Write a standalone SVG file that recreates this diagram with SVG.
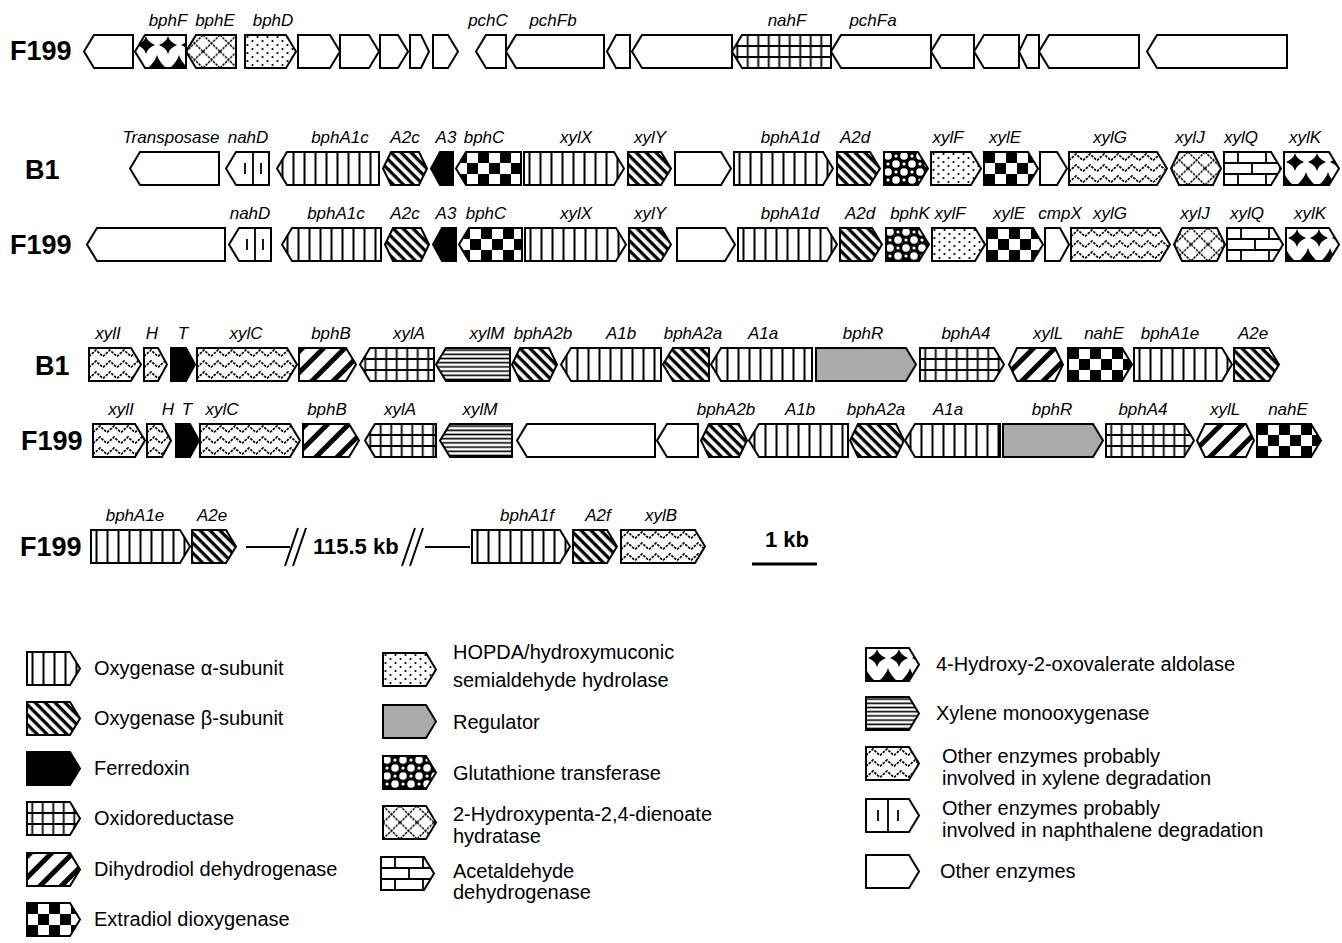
<svg xmlns="http://www.w3.org/2000/svg" width="1342" height="943" viewBox="0 0 1342 943">
<style>
.g{stroke:#000;stroke-width:2;stroke-linejoin:miter}
.w{fill:#fff}.k{fill:#000}.gr{fill:#aaa}
.vl{fill:url(#pVL)}.b{fill:url(#pB)}.dh{fill:url(#pDH)}.grid{fill:url(#pGrid)}.chk{fill:url(#pChk)}
.dot{fill:url(#pDot)}.zig{fill:url(#pZig)}.hyd{fill:url(#pHyd)}.brk{fill:url(#pBrk)}.ald{fill:url(#pAld)}
.glu{fill:url(#pGlu)}.hl{fill:url(#pHL)}
.nl{stroke:#000;stroke-width:1.8;fill:none}
.gl{font-family:"Liberation Sans",Arial,sans-serif;font-style:italic;font-size:17px;text-anchor:middle}
.rl{font-family:"Liberation Sans",Arial,sans-serif;font-weight:bold;font-size:27px}
.lg{font-family:"Liberation Sans",Arial,sans-serif;font-size:20px}
.kb{font-family:"Liberation Sans",Arial,sans-serif;font-weight:bold;font-size:22px}
.cn{stroke:#000;stroke-width:2;fill:none}
</style>
<defs>
<pattern id="pVL" patternUnits="userSpaceOnUse" width="11" height="33"><rect width="11" height="33" fill="#fff"/><rect x="4.5" width="2" height="33" fill="#000"/></pattern>
<pattern id="pB" patternUnits="userSpaceOnUse" width="7" height="7" patternTransform="rotate(45)"><rect width="7" height="7" fill="#fff"/><rect width="7" height="3.3" fill="#000"/></pattern>
<pattern id="pDH" patternUnits="userSpaceOnUse" width="15" height="15" patternTransform="rotate(-45)"><rect width="15" height="15" fill="#fff"/><rect width="15" height="5" fill="#000"/></pattern>
<pattern id="pGrid" patternUnits="userSpaceOnUse" width="10.5" height="33"><rect width="10.5" height="33" fill="#fff"/><path d="M5.25,0V33M0,11H10.5M0,22H10.5" stroke="#000" stroke-width="1.8"/></pattern>
<pattern id="pChk" patternUnits="userSpaceOnUse" width="22" height="22"><rect width="22" height="22" fill="#fff"/><rect width="11" height="11" fill="#000"/><rect x="11" y="11" width="11" height="11" fill="#000"/></pattern>
<pattern id="pDot" patternUnits="userSpaceOnUse" width="10" height="8"><rect width="10" height="8" fill="#fff"/><circle cx="2.5" cy="2" r="1.1"/><circle cx="7.5" cy="6" r="1.1"/></pattern>
<pattern id="pZig" patternUnits="userSpaceOnUse" width="14" height="11"><rect width="14" height="11" fill="#fff"/><polyline points="0,8.5 7,2 14,8.5" fill="none" stroke="#000" stroke-width="1.7" stroke-dasharray="2.6 1.2"/></pattern>
<pattern id="pHyd" patternUnits="userSpaceOnUse" width="17" height="16.5"><rect width="17" height="16.5" fill="#fff"/><path d="M0,0L17,16.5M17,0L0,16.5" stroke="#000" stroke-width="1.5" stroke-dasharray="2.5 1"/></pattern>
<pattern id="pBrk" patternUnits="userSpaceOnUse" width="28" height="33"><rect width="28" height="33" fill="#fff"/><path d="M0,11H28M0,22H28M14,0V11M0,11V22M28,11V22M14,22V33" stroke="#000" stroke-width="1.8"/></pattern>
<pattern id="pAld" patternUnits="userSpaceOnUse" width="22" height="33"><rect width="22" height="33" fill="#fff"/><path d="M11,1Q12.5,7 20,10Q12.5,13 11,19Q9.5,13 2,10Q9.5,7 11,1Z"/><path d="M0,20Q1.5,26 9,33H-9Q-1.5,26 0,20ZM22,20Q23.5,26 31,33H13Q20.5,26 22,20Z"/></pattern>
<pattern id="pGlu" patternUnits="userSpaceOnUse" width="16" height="16"><rect width="16" height="16" fill="#000"/><circle cx="4" cy="4" r="3.8" fill="#fff"/><circle cx="12" cy="12" r="3.8" fill="#fff"/><circle cx="12" cy="4" r="1.6" fill="#fff"/><circle cx="4" cy="12" r="1.6" fill="#fff"/></pattern>
<pattern id="pHL" patternUnits="userSpaceOnUse" width="10" height="4.2"><rect width="10" height="4.2" fill="#fff"/><rect y="1.3" width="10" height="1.6" fill="#000"/></pattern>
</defs>

<g id="row-labels">
<text class="rl" x="10" y="60">F199</text>
<text class="rl" x="25" y="179">B1</text>
<text class="rl" x="10" y="254">F199</text>
<text class="rl" x="35" y="375">B1</text>
<text class="rl" x="21" y="450">F199</text>
<text class="rl" x="20" y="556">F199</text>
</g>

<!-- Row 1 -->
<g id="r1g1" transform="translate(84,35)"><path class="g w" d="M10,0H49V33H10L0,16.5Z"/></g>
<g id="r1g2" transform="translate(135,35)"><path class="g ald" d="M10,0H51V33H10L0,16.5Z"/><text class="gl" x="33" y="-9">bphF</text></g>
<g id="r1g3" transform="translate(186,35)"><path class="g hyd" d="M10,0H50V33H10L0,16.5Z"/><text class="gl" x="29" y="-9">bphE</text></g>
<g id="r1g4" transform="translate(245,35)"><path class="g dot" d="M0,0H41L51,16.5L41,33H0Z"/><text class="gl" x="28" y="-9">bphD</text></g>
<g id="r1g5" transform="translate(298,35)"><path class="g w" d="M0,0H32L42,16.5L32,33H0Z"/></g>
<g id="r1g6" transform="translate(340,35)"><path class="g w" d="M0,0H29L39,16.5L29,33H0Z"/></g>
<g id="r1g7" transform="translate(380,35)"><path class="g w" d="M0,0H18L28,16.5L18,33H0Z"/></g>
<g id="r1g8" transform="translate(410,35)"><path class="g w" d="M0,0H11L19,16.5L11,33H0Z"/></g>
<g id="r1g9" transform="translate(433,35)"><path class="g w" d="M0,0H15L25,16.5L15,33H0Z"/></g>
<g id="r1g10" transform="translate(476,35)"><path class="g w" d="M10,0H30V33H10L0,16.5Z"/><text class="gl" x="12" y="-9">pchC</text></g>
<g id="r1g11" transform="translate(506,35)"><path class="g w" d="M10,0H98V33H10L0,16.5Z"/><text class="gl" x="47" y="-9">pchFb</text></g>
<g id="r1g12" transform="translate(607,35)"><path class="g w" d="M9,0H23V33H9L0,16.5Z"/></g>
<g id="r1g13" transform="translate(632,35)"><path class="g w" d="M10,0H100V33H10L0,16.5Z"/></g>
<g id="r1g14" transform="translate(732,35)"><path class="g grid" d="M10,0H99V33H10L0,16.5Z"/><text class="gl" x="55" y="-9">nahF</text></g>
<g id="r1g15" transform="translate(831,35)"><path class="g w" d="M10,0H100V33H10L0,16.5Z"/><text class="gl" x="42" y="-9">pchFa</text></g>
<g id="r1g16" transform="translate(931,35)"><path class="g w" d="M10,0H43V33H10L0,16.5Z"/></g>
<g id="r1g17" transform="translate(974,35)"><path class="g w" d="M10,0H45V33H10L0,16.5Z"/></g>
<g id="r1g18" transform="translate(1019,35)"><path class="g w" d="M8,0H20V33H8L0,16.5Z"/></g>
<g id="r1g19" transform="translate(1039,35)"><path class="g w" d="M10,0H100V33H10L0,16.5Z"/></g>
<g id="r1g20" transform="translate(1147,35)"><path class="g w" d="M10,0H140V33H10L0,16.5Z"/></g>

<!-- Row 2 B1 -->
<g id="r2g1" transform="translate(130,152)"><path class="g w" d="M10,0H89V33H10L0,16.5Z"/><text class="gl" x="41" y="-9">Transposase</text></g>
<g id="r2g2" transform="translate(226,152)"><path class="g w" d="M10,0H43V33H10L0,16.5Z"/><path class="nl" d="M27,0V33M19,11V22M35,11V22"/><text class="gl" x="22" y="-9">nahD</text></g>
<g id="r2g3" transform="translate(277,152)"><path class="g vl" d="M10,0H102V33H10L0,16.5Z"/><text class="gl" x="63" y="-9">bphA1c</text></g>
<g id="r2g4" transform="translate(383,152)"><path class="g b" d="M8,0H36L44,16.5L36,33H8L0,16.5Z"/><text class="gl" x="22" y="-9">A2c</text></g>
<g id="r2g5" transform="translate(431,152)"><path class="g k" d="M9,0H22V33H9L0,16.5Z"/><text class="gl" x="15" y="-9">A3</text></g>
<g id="r2g6" transform="translate(456,152)"><path class="g chk" d="M10,0H65V33H10L0,16.5Z"/><text class="gl" x="28" y="-9">bphC</text></g>
<g id="r2g7" transform="translate(524,152)"><path class="g vl" d="M0,0H90L100,16.5L90,33H0Z"/><text class="gl" x="52" y="-9">xylX</text></g>
<g id="r2g8" transform="translate(628,152)"><path class="g b" d="M0,0H33L43,16.5L33,33H0Z"/><text class="gl" x="22" y="-9">xylY</text></g>
<g id="r2g9" transform="translate(675,152)"><path class="g w" d="M0,0H46L56,16.5L46,33H0Z"/></g>
<g id="r2g10" transform="translate(734,152)"><path class="g vl" d="M0,0H89L99,16.5L89,33H0Z"/><text class="gl" x="56" y="-9">bphA1d</text></g>
<g id="r2g11" transform="translate(837,152)"><path class="g b" d="M0,0H33L43,16.5L33,33H0Z"/><text class="gl" x="18" y="-9">A2d</text></g>
<g id="r2g12" transform="translate(884,152)"><path class="g glu" d="M0,0H34L44,16.5L34,33H0Z"/></g>
<g id="r2g13" transform="translate(931,152)"><path class="g dot" d="M0,0H40L50,16.5L40,33H0Z"/><text class="gl" x="17" y="-9">xylF</text></g>
<g id="r2g14" transform="translate(984,152)"><path class="g chk" d="M0,0H44L54,16.5L44,33H0Z"/><text class="gl" x="21" y="-9">xylE</text></g>
<g id="r2g15" transform="translate(1040,152)"><path class="g w" d="M0,0H17L27,16.5L17,33H0Z"/></g>
<g id="r2g16" transform="translate(1069,152)"><path class="g zig" d="M0,0H88L98,16.5L88,33H0Z"/><text class="gl" x="41" y="-9">xylG</text></g>
<g id="r2g17" transform="translate(1171,152)"><path class="g hyd" d="M8,0H42L50,16.5L42,33H8L0,16.5Z"/><text class="gl" x="19" y="-9">xylJ</text></g>
<g id="r2g18" transform="translate(1224,152)"><path class="g brk" d="M0,0H47L57,16.5L47,33H0Z"/><text class="gl" x="17" y="-9">xylQ</text></g>
<g id="r2g19" transform="translate(1284,152)"><path class="g ald" d="M0,0H45L55,16.5L45,33H0Z"/><text class="gl" x="21" y="-9">xylK</text></g>

<!-- Row 3 F199 -->
<g id="r3g1" transform="translate(87,228)"><path class="g w" d="M10,0H138V33H10L0,16.5Z"/></g>
<g id="r3g2" transform="translate(229,228)"><path class="g w" d="M10,0H42V33H10L0,16.5Z"/><path class="nl" d="M26,0V33M18,11V22M34,11V22"/><text class="gl" x="21" y="-9">nahD</text></g>
<g id="r3g3" transform="translate(282,228)"><path class="g vl" d="M10,0H99V33H10L0,16.5Z"/><text class="gl" x="54" y="-9">bphA1c</text></g>
<g id="r3g4" transform="translate(385,228)"><path class="g b" d="M8,0H36L44,16.5L36,33H8L0,16.5Z"/><text class="gl" x="20" y="-9">A2c</text></g>
<g id="r3g5" transform="translate(433,228)"><path class="g k" d="M9,0H23V33H9L0,16.5Z"/><text class="gl" x="13" y="-9">A3</text></g>
<g id="r3g6" transform="translate(459,228)"><path class="g chk" d="M10,0H63V33H10L0,16.5Z"/><text class="gl" x="27" y="-9">bphC</text></g>
<g id="r3g7" transform="translate(525,228)"><path class="g vl" d="M0,0H91L101,16.5L91,33H0Z"/><text class="gl" x="51" y="-9">xylX</text></g>
<g id="r3g8" transform="translate(629,228)"><path class="g b" d="M0,0H32L42,16.5L32,33H0Z"/><text class="gl" x="21" y="-9">xylY</text></g>
<g id="r3g9" transform="translate(677,228)"><path class="g w" d="M0,0H48L58,16.5L48,33H0Z"/></g>
<g id="r3g10" transform="translate(738,228)"><path class="g vl" d="M0,0H89L99,16.5L89,33H0Z"/><text class="gl" x="52" y="-9">bphA1d</text></g>
<g id="r3g11" transform="translate(840,228)"><path class="g b" d="M0,0H32L42,16.5L32,33H0Z"/><text class="gl" x="20" y="-9">A2d</text></g>
<g id="r3g12" transform="translate(886,228)"><path class="g glu" d="M0,0H33L43,16.5L33,33H0Z"/><text class="gl" x="24" y="-9">bphK</text></g>
<g id="r3g13" transform="translate(932,228)"><path class="g dot" d="M0,0H43L53,16.5L43,33H0Z"/><text class="gl" x="18" y="-9">xylF</text></g>
<g id="r3g14" transform="translate(987,228)"><path class="g chk" d="M0,0H46L56,16.5L46,33H0Z"/><text class="gl" x="22" y="-9">xylE</text></g>
<g id="r3g15" transform="translate(1045,228)"><path class="g w" d="M0,0H15L24,16.5L15,33H0Z"/><text class="gl" x="15" y="-9">cmpX</text></g>
<g id="r3g16" transform="translate(1071,228)"><path class="g zig" d="M0,0H89L99,16.5L89,33H0Z"/><text class="gl" x="39" y="-9">xylG</text></g>
<g id="r3g17" transform="translate(1174,228)"><path class="g hyd" d="M8,0H43L51,16.5L43,33H8L0,16.5Z"/><text class="gl" x="21" y="-9">xylJ</text></g>
<g id="r3g18" transform="translate(1227,228)"><path class="g brk" d="M0,0H46L56,16.5L46,33H0Z"/><text class="gl" x="20" y="-9">xylQ</text></g>
<g id="r3g19" transform="translate(1286,228)"><path class="g ald" d="M0,0H43L53,16.5L43,33H0Z"/><text class="gl" x="24" y="-9">xylK</text></g>

<!-- Row 4 B1 -->
<g id="r4g1" transform="translate(89,348)"><path class="g zig" d="M0,0H42L52,16.5L42,33H0Z"/><text class="gl" x="19" y="-9">xylI</text></g>
<g id="r4g2" transform="translate(144,348)"><path class="g zig" d="M0,0H14L23,16.5L14,33H0Z"/><text class="gl" x="8" y="-9">H</text></g>
<g id="r4g3" transform="translate(171,348)"><path class="g k" d="M0,0H15L24,16.5L15,33H0Z"/><text class="gl" x="12" y="-9">T</text></g>
<g id="r4g4" transform="translate(197,348)"><path class="g zig" d="M0,0H90L100,16.5L90,33H0Z"/><text class="gl" x="49" y="-9">xylC</text></g>
<g id="r4g5" transform="translate(299,348)"><path class="g dh" d="M0,0H47L57,16.5L47,33H0Z"/><text class="gl" x="32" y="-9">bphB</text></g>
<g id="r4g6" transform="translate(360,348)"><path class="g grid" d="M10,0H74V33H10L0,16.5Z"/><text class="gl" x="49" y="-9">xylA</text></g>
<g id="r4g7" transform="translate(436,348)"><path class="g hl" d="M10,0H74V33H10L0,16.5Z"/><text class="gl" x="51" y="-9">xylM</text></g>
<g id="r4g8" transform="translate(512,348)"><path class="g b" d="M8,0H37L45,16.5L37,33H8L0,16.5Z"/><text class="gl" x="31" y="-9">bphA2b</text></g>
<g id="r4g9" transform="translate(561,348)"><path class="g vl" d="M10,0H100V33H10L0,16.5Z"/><text class="gl" x="60" y="-9">A1b</text></g>
<g id="r4g10" transform="translate(663,348)"><path class="g b" d="M10,0H46V33H10L0,16.5Z"/><text class="gl" x="30" y="-9">bphA2a</text></g>
<g id="r4g11" transform="translate(711,348)"><path class="g vl" d="M10,0H101V33H10L0,16.5Z"/><text class="gl" x="52" y="-9">A1a</text></g>
<g id="r4g12" transform="translate(816,348)"><path class="g gr" d="M0,0H90L100,16.5L90,33H0Z"/><text class="gl" x="47" y="-9">bphR</text></g>
<g id="r4g13" transform="translate(920,348)"><path class="g grid" d="M0,0H74L84,16.5L74,33H0Z"/><text class="gl" x="46" y="-9">bphA4</text></g>
<g id="r4g14" transform="translate(1009,348)"><path class="g dh" d="M8,0H46L54,16.5L46,33H8L0,16.5Z"/><text class="gl" x="39" y="-9">xylL</text></g>
<g id="r4g15" transform="translate(1068,348)"><path class="g chk" d="M0,0H54L64,16.5L54,33H0Z"/><text class="gl" x="36" y="-9">nahE</text></g>
<g id="r4g16" transform="translate(1134,348)"><path class="g vl" d="M0,0H88L98,16.5L88,33H0Z"/><text class="gl" x="36" y="-9">bphA1e</text></g>
<g id="r4g17" transform="translate(1234,348)"><path class="g b" d="M0,0H35L45,16.5L35,33H0Z"/><text class="gl" x="19" y="-9">A2e</text></g>

<!-- Row 5 F199 -->
<g id="r5g1" transform="translate(93,424)"><path class="g zig" d="M0,0H42L52,16.5L42,33H0Z"/><text class="gl" x="28" y="-9">xylI</text></g>
<g id="r5g2" transform="translate(147,424)"><path class="g zig" d="M0,0H15L24,16.5L15,33H0Z"/><text class="gl" x="21" y="-9">H</text></g>
<g id="r5g3" transform="translate(176,424)"><path class="g k" d="M0,0H14L23,16.5L14,33H0Z"/><text class="gl" x="11" y="-9">T</text></g>
<g id="r5g4" transform="translate(200,424)"><path class="g zig" d="M0,0H90L100,16.5L90,33H0Z"/><text class="gl" x="22" y="-9">xylC</text></g>
<g id="r5g5" transform="translate(303,424)"><path class="g dh" d="M0,0H46L56,16.5L46,33H0Z"/><text class="gl" x="24" y="-9">bphB</text></g>
<g id="r5g6" transform="translate(365,424)"><path class="g grid" d="M10,0H71V33H10L0,16.5Z"/><text class="gl" x="35" y="-9">xylA</text></g>
<g id="r5g7" transform="translate(440,424)"><path class="g hl" d="M10,0H72V33H10L0,16.5Z"/><text class="gl" x="40" y="-9">xylM</text></g>
<g id="r5g8" transform="translate(517,424)"><path class="g w" d="M10,0H138V33H10L0,16.5Z"/></g>
<g id="r5g9" transform="translate(657,424)"><path class="g w" d="M10,0H41V33H10L0,16.5Z"/></g>
<g id="r5g10" transform="translate(701,424)"><path class="g b" d="M8,0H38L46,16.5L38,33H8L0,16.5Z"/><text class="gl" x="25" y="-9">bphA2b</text></g>
<g id="r5g11" transform="translate(749,424)"><path class="g vl" d="M10,0H99V33H10L0,16.5Z"/><text class="gl" x="51" y="-9">A1b</text></g>
<g id="r5g12" transform="translate(850,424)"><path class="g b" d="M8,0H46L54,16.5L46,33H8L0,16.5Z"/><text class="gl" x="26" y="-9">bphA2a</text></g>
<g id="r5g13" transform="translate(905,424)"><path class="g vl" d="M10,0H95V33H10L0,16.5Z"/><text class="gl" x="43" y="-9">A1a</text></g>
<g id="r5g14" transform="translate(1003,424)"><path class="g gr" d="M0,0H90L100,16.5L90,33H0Z"/><text class="gl" x="49" y="-9">bphR</text></g>
<g id="r5g15" transform="translate(1106,424)"><path class="g grid" d="M0,0H78L88,16.5L78,33H0Z"/><text class="gl" x="37" y="-9">bphA4</text></g>
<g id="r5g16" transform="translate(1197,424)"><path class="g dh" d="M8,0H49L57,16.5L49,33H8L0,16.5Z"/><text class="gl" x="28" y="-9">xylL</text></g>
<g id="r5g17" transform="translate(1257,424)"><path class="g chk" d="M0,0H54L64,16.5L54,33H0Z"/><text class="gl" x="31" y="-9">nahE</text></g>

<!-- Row 6 F199 -->
<g id="r6g1" transform="translate(91,530)"><path class="g vl" d="M0,0H89L99,16.5L89,33H0Z"/><text class="gl" x="44" y="-9">bphA1e</text></g>
<g id="r6g2" transform="translate(192,530)"><path class="g b" d="M0,0H34L44,16.5L34,33H0Z"/><text class="gl" x="20" y="-9">A2e</text></g>
<g id="r6g3" transform="translate(472,530)"><path class="g vl" d="M0,0H88L98,16.5L88,33H0Z"/><text class="gl" x="55" y="-9">bphA1f</text></g>
<g id="r6g4" transform="translate(573,530)"><path class="g b" d="M0,0H34L44,16.5L34,33H0Z"/><text class="gl" x="25" y="-9">A2f</text></g>
<g id="r6g5" transform="translate(621,530)"><path class="g zig" d="M0,0H74L84,16.5L74,33H0Z"/><text class="gl" x="40" y="-9">xylB</text></g>

<g id="connectors">
<path class="cn" d="M246,547H290M285,566L298,528M293,566L306,528M402,566L415,528M410,566L423,528M425,547H470"/>
<path class="cn" d="M752,564H817" style="stroke-width:3"/>
</g>
<g id="gap-label"><text class="kb" x="313" y="554">115.5 kb</text></g>
<g id="scale-label"><text class="kb" x="787" y="547" text-anchor="middle">1 kb</text></g>

<!-- Legend col 1 -->
<g id="lg-alpha" transform="translate(27,652)"><path class="g vl" d="M0,0H43L53,16.5L43,33H0Z"/><text class="lg" x="67" y="23">Oxygenase α-subunit</text></g>
<g id="lg-beta" transform="translate(27,702)"><path class="g b" d="M0,0H43L53,16.5L43,33H0Z"/><text class="lg" x="67" y="23">Oxygenase β-subunit</text></g>
<g id="lg-ferr" transform="translate(27,752)"><path class="g k" d="M0,0H43L53,16.5L43,33H0Z"/><text class="lg" x="67" y="23">Ferredoxin</text></g>
<g id="lg-oxido" transform="translate(27,802)"><path class="g grid" d="M0,0H43L53,16.5L43,33H0Z"/><text class="lg" x="67" y="23">Oxidoreductase</text></g>
<g id="lg-dihyd" transform="translate(27,853)"><path class="g dh" d="M0,0H43L53,16.5L43,33H0Z"/><text class="lg" x="67" y="23">Dihydrodiol dehydrogenase</text></g>
<g id="lg-extra" transform="translate(27,903)"><path class="g chk" d="M0,0H43L53,16.5L43,33H0Z"/><text class="lg" x="67" y="23">Extradiol dioxygenase</text></g>

<!-- Legend col 2 -->
<g id="lg-hopda" transform="translate(383,653)"><path class="g dot" d="M0,0H43L53,16.5L43,33H0Z"/><text class="lg" x="70" y="6">HOPDA/hydroxymuconic</text><text class="lg" x="70" y="34">semialdehyde hydrolase</text></g>
<g id="lg-reg" transform="translate(383,705)"><path class="g gr" d="M0,0H43L53,16.5L43,33H0Z"/><text class="lg" x="70" y="24">Regulator</text></g>
<g id="lg-glu" transform="translate(383,756)"><path class="g glu" d="M0,0H43L53,16.5L43,33H0Z"/><text class="lg" x="70" y="24">Glutathione transferase</text></g>
<g id="lg-hyd" transform="translate(383,806)"><path class="g hyd" d="M0,0H43L53,16.5L43,33H0Z"/><text class="lg" x="70" y="15">2-Hydroxypenta-2,4-dienoate</text><text class="lg" x="70" y="37">hydratase</text></g>
<g id="lg-acet" transform="translate(381,857)"><path class="g brk" d="M0,0H43L53,16.5L43,33H0Z"/><text class="lg" x="72" y="21">Acetaldehyde</text><text class="lg" x="72" y="42">dehydrogenase</text></g>

<!-- Legend col 3 -->
<g id="lg-ald" transform="translate(866,648)"><path class="g ald" d="M0,0H43L53,16.5L43,33H0Z"/><text class="lg" x="70" y="23">4-Hydroxy-2-oxovalerate aldolase</text></g>
<g id="lg-xmo" transform="translate(866,697)"><path class="g hl" d="M0,0H43L53,16.5L43,33H0Z"/><text class="lg" x="70" y="23">Xylene monooxygenase</text></g>
<g id="lg-xyl" transform="translate(866,747)"><path class="g zig" d="M0,0H43L53,16.5L43,33H0Z"/><text class="lg" x="76" y="16">Other enzymes probably</text><text class="lg" x="76" y="38">involved in xylene degradation</text></g>
<g id="lg-naph" transform="translate(866,799)"><path class="g w" d="M0,0H43L53,16.5L43,33H0Z"/><path class="nl" d="M22,0V33M12,11V22M32,11V22"/><text class="lg" x="76" y="16">Other enzymes probably</text><text class="lg" x="76" y="38">involved in naphthalene degradation</text></g>
<g id="lg-other" transform="translate(866,855)"><path class="g w" d="M0,0H43L53,16.5L43,33H0Z"/><text class="lg" x="74" y="23">Other enzymes</text></g>
</svg>
